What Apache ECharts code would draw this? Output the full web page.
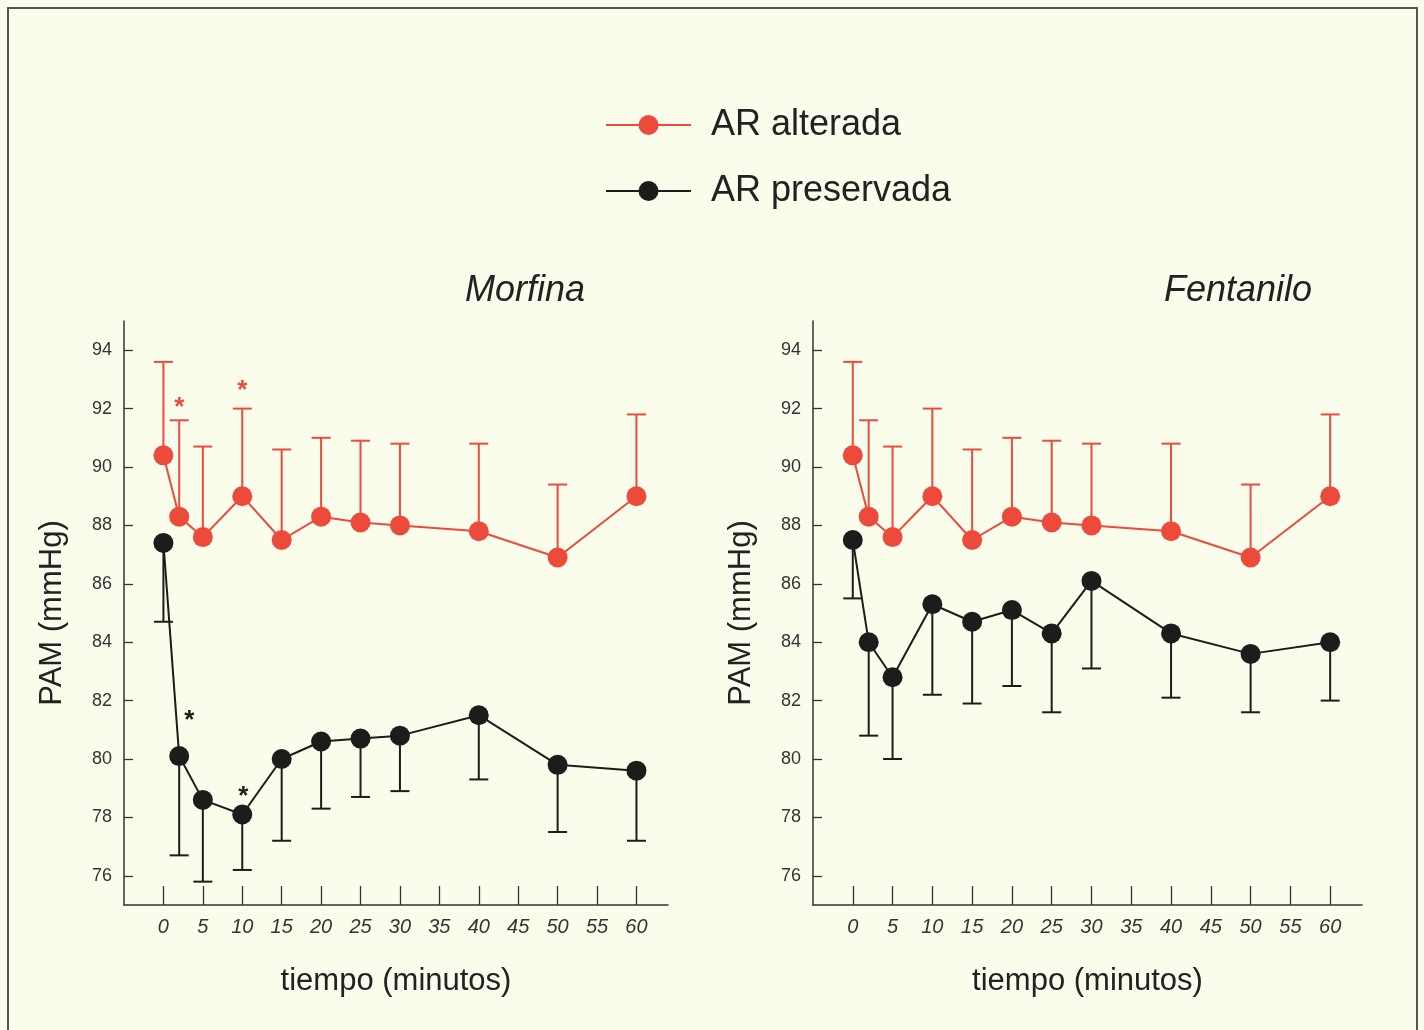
<!DOCTYPE html>
<html>
<head>
<meta charset="utf-8">
<script src="https://cdn.jsdelivr.net/npm/echarts@6/dist/echarts.min.js"></script>
<style>
  html, body { margin: 0; padding: 0; background: #fbfdec; }
  #chart { width: 1424px; height: 1030px; }
</style>
</head>
<body>
<div id="chart"></div>
<script>
// Sampling times (minutes)
const tiempos = [0, 2, 5, 10, 15, 20, 25, 30, 40, 50, 60];
const xTickValues = [0, 5, 10, 15, 20, 25, 30, 35, 40, 45, 50, 55, 60];
const yTickValues = [76, 78, 80, 82, 84, 86, 88, 90, 92, 94];

// Morfina: mean PAM and SD bound (upper for AR alterada, lower for AR preservada)
const morfinaAlterada = [90.4, 88.3, 87.6, 89.0, 87.5, 88.3, 88.1, 88.0, 87.8, 86.9, 89.0];
const morfinaAlteradaSup = [93.6, 91.6, 90.7, 92.0, 90.6, 91.0, 90.9, 90.8, 90.8, 89.4, 91.8];
const morfinaPreservada = [87.4, 80.1, 78.6, 78.1, 80.0, 80.6, 80.7, 80.8, 81.5, 79.8, 79.6];
const morfinaPreservadaInf = [84.7, 76.7, 75.8, 76.2, 77.2, 78.3, 78.7, 78.9, 79.3, 77.5, 77.2];

// Fentanilo
const fentaniloAlterada = [90.4, 88.3, 87.6, 89.0, 87.5, 88.3, 88.1, 88.0, 87.8, 86.9, 89.0];
const fentaniloAlteradaSup = [93.6, 91.6, 90.7, 92.0, 90.6, 91.0, 90.9, 90.8, 90.8, 89.4, 91.8];
const fentaniloPreservada = [87.5, 84.0, 82.8, 85.3, 84.7, 85.1, 84.3, 86.1, 84.3, 83.6, 84.0];
const fentaniloPreservadaInf = [85.5, 80.8, 80.0, 82.2, 81.9, 82.5, 81.6, 83.1, 82.1, 81.6, 82.0];

// Times with a significant difference (*) in the Morfina panel
const morfinaSigAlterada = [2, 10];
const morfinaSigPreservada = [2, 10];

const RED = '#ec4a3b';
const BLACK = '#1c1c1a';
const FONT = 'Liberation Sans, Arial, sans-serif';

// Pixel offsets of the asterisks relative to their anchor (cap or mean)
const starOffsetAlterada = { 2: [0, -12], 10: [0, -18] };
const starOffsetPreservada = { 2: [10, -35], 10: [1, -18] };

function pairs(xs, ys) { return xs.map((x, i) => [x, ys[i]]); }

function lineSeries(name, idx, color, values) {
  return {
    type: 'line', name: name, xAxisIndex: idx, yAxisIndex: idx,
    data: pairs(tiempos, values),
    symbol: 'circle', symbolSize: 20,
    itemStyle: { color: color },
    lineStyle: { color: color, width: 2 },
    z: 3, silent: true, animation: false
  };
}

function errorSeries(idx, color, means, bounds) {
  return {
    type: 'custom', xAxisIndex: idx, yAxisIndex: idx,
    data: tiempos.map((t, i) => [t, means[i], bounds[i]]),
    encode: { x: 0, y: [1, 2] },
    silent: true, animation: false, z: 2,
    renderItem: function (params, api) {
      const t = api.value(0);
      const p0 = api.coord([t, api.value(1)]);
      const p1 = api.coord([t, api.value(2)]);
      const half = 9.5;
      return {
        type: 'group',
        children: [
          { type: 'line', shape: { x1: p0[0], y1: p0[1], x2: p1[0], y2: p1[1] },
            style: { stroke: color, lineWidth: 2 } },
          { type: 'line', shape: { x1: p1[0] - half, y1: p1[1], x2: p1[0] + half, y2: p1[1] },
            style: { stroke: color, lineWidth: 2 } }
        ]
      };
    }
  };
}

function starSeries(idx, color, sigTimes, values, offsets) {
  return {
    type: 'custom', xAxisIndex: idx, yAxisIndex: idx,
    data: sigTimes.map(t => [t, values[tiempos.indexOf(t)]]),
    silent: true, animation: false, z: 4,
    renderItem: function (params, api) {
      const t = api.value(0);
      const p = api.coord([t, api.value(1)]);
      const off = offsets[t] || [0, -20];
      return {
        type: 'text',
        x: p[0] + off[0], y: p[1] + off[1],
        style: { text: '*', fill: color, font: 'bold 26px ' + FONT,
                 textAlign: 'center', textVerticalAlign: 'middle' }
      };
    }
  };
}

function xAxis(idx) {
  return {
    type: 'value', gridIndex: idx, min: -5, max: 64,
    name: 'tiempo (minutos)', nameLocation: 'middle', nameGap: 61,
    nameTextStyle: { fontSize: 31, color: '#222', fontFamily: FONT },
    axisLine: { show: true, onZero: false, lineStyle: { color: '#333', width: 1.5 } },
    axisTick: { show: true, inside: true, length: 19, customValues: xTickValues,
                lineStyle: { color: '#333', width: 1.3 } },
    axisLabel: { customValues: xTickValues, margin: 12, fontSize: 20, fontStyle: 'italic',
                 color: '#333', fontFamily: FONT },
    splitLine: { show: false }
  };
}

function yAxis(idx) {
  return {
    type: 'value', gridIndex: idx, min: 75, max: 95,
    name: 'PAM (mmHg)', nameLocation: 'middle', nameGap: 56,
    nameTextStyle: { fontSize: 31, color: '#222', fontFamily: FONT },
    axisLine: { show: true, onZero: false, lineStyle: { color: '#333', width: 1.5 } },
    axisTick: { show: true, inside: true, length: 9, customValues: yTickValues,
                lineStyle: { color: '#333', width: 1.3 } },
    axisLabel: { customValues: yTickValues, margin: 12, fontSize: 18,
                 color: '#333', fontFamily: FONT },
    splitLine: { show: false }
  };
}

const chart = echarts.init(document.getElementById('chart'), null, { renderer: 'canvas' });

chart.setOption({
  backgroundColor: '#fbfdec',
  animation: false,
  legend: {
    data: ['AR alterada', 'AR preservada'],
    orient: 'vertical', left: 605, top: 107, padding: 0,
    itemWidth: 85, itemHeight: 25, itemGap: 30,
    selectedMode: false,
    textStyle: { fontSize: 36, color: '#222', fontFamily: FONT, padding: [0, 0, 0, 15] }
  },
  graphic: [
    { type: 'rect', shape: { x: 8, y: 8, width: 1409, height: 1040 },
      style: { fill: null, stroke: '#555', lineWidth: 2 }, silent: true },
    { type: 'text', x: 525, y: 291,
      style: { text: 'Morfina', font: 'italic 36px ' + FONT, fill: '#222',
               textAlign: 'center', textVerticalAlign: 'middle' } },
    { type: 'text', x: 1238, y: 291,
      style: { text: 'Fentanilo', font: 'italic 36px ' + FONT, fill: '#222',
               textAlign: 'center', textVerticalAlign: 'middle' } }
  ],
  grid: [
    { left: 124, right: 756, top: 321, bottom: 125 },
    { left: 813, right: 62, top: 321, bottom: 125 }
  ],
  xAxis: [xAxis(0), xAxis(1)],
  yAxis: [yAxis(0), yAxis(1)],
  series: [
    lineSeries('AR alterada', 0, RED, morfinaAlterada),
    lineSeries('AR preservada', 0, BLACK, morfinaPreservada),
    lineSeries('AR alterada', 1, RED, fentaniloAlterada),
    lineSeries('AR preservada', 1, BLACK, fentaniloPreservada),
    errorSeries(0, RED, morfinaAlterada, morfinaAlteradaSup),
    errorSeries(0, BLACK, morfinaPreservada, morfinaPreservadaInf),
    errorSeries(1, RED, fentaniloAlterada, fentaniloAlteradaSup),
    errorSeries(1, BLACK, fentaniloPreservada, fentaniloPreservadaInf),
    starSeries(0, RED, morfinaSigAlterada, morfinaAlteradaSup, starOffsetAlterada),
    starSeries(0, BLACK, morfinaSigPreservada, morfinaPreservada, starOffsetPreservada)
  ]
});
</script>
</body>
</html>
